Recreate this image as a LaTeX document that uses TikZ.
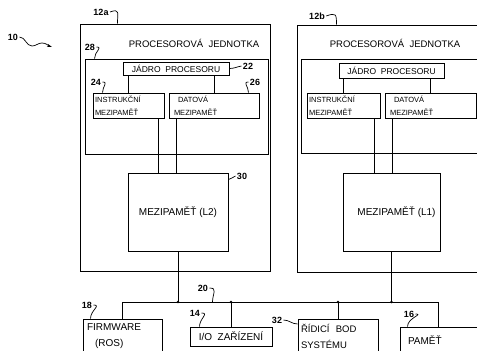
\documentclass[tikz,border=0pt]{standalone}
\usepackage{fontspec}
\setmainfont{Liberation Sans}
\usetikzlibrary{arrows.meta, positioning}

\begin{document}
\begin{tikzpicture}[
    x=1pt, y=-1pt,
    line width=1pt,
    frame/.style={rectangle, draw, inner sep=0pt},
    box/.style={rectangle, draw, inner sep=2pt, align=center, font=\fontsize{10}{16}\selectfont},
    small/.style={font=\fontsize{7.5}{13.5}\selectfont},
    title/.style={font=\fontsize{9.5}{11}\selectfont, inner sep=0pt},
    lbl/.style={font=\fontsize{9}{10}\selectfont\bfseries, inner sep=1pt},
    lead/.style={line width=0.7pt},
    wire/.style={line width=1pt},
    dot/.style={circle, fill, inner sep=0pt, minimum size=2.8pt}
]
    \clip (0,0) rectangle (477,351);

    % Processor unit 12a
    \node[frame, minimum width=190, minimum height=247] (unitA) at (175,147.5) {};
    \node[title] (titleA) at (194,43) {PROCESOROVÁ\ \ JEDNOTKA};
    \node[frame, minimum width=183, minimum height=95] (innerA) at (176.5,106.5) {};
    \node[box, minimum width=106, minimum height=13, inner sep=0pt, font=\fontsize{8.5}{10}\selectfont] (coreA) at (176,68.5) {JÁDRO\ \ PROCESORU};
    \node[box, small, align=left, text width=67, inner xsep=2, minimum height=25, inner ysep=0pt] (icacheA) at (128.5,105.5) {INSTRUKČNÍ\\MEZIPAMĚŤ};
    \node[box, small, align=left, text width=80, inner xsep=5, minimum height=25, inner ysep=0pt] (dcacheA) at (214,105.5) {\hspace{4pt}DATOVÁ\\MEZIPAMĚŤ};
    \node[box, minimum width=100, minimum height=78] (l2A) at (178,212) {\raisebox{-6pt}{MEZIPAMĚŤ (L2)}};

    % Processor unit 12b
    \node[frame, minimum width=193, minimum height=247] (unitB) at (393.5,148.5) {};
    \node[title] (titleB) at (395,43) {PROCESOROVÁ\ \ JEDNOTKA};
    \node[frame, minimum width=189, minimum height=94] (innerB) at (395.5,106) {};
    \node[box, minimum width=105, minimum height=15, inner sep=0pt, font=\fontsize{8.5}{10}\selectfont] (coreB) at (391.5,70.5) {JÁDRO\ \ PROCESORU};
    \node[box, small, align=left, text width=69, inner xsep=2, minimum height=25, inner ysep=0pt] (icacheB) at (343.5,105.5) {INSTRUKČNÍ\\MEZIPAMĚŤ};
    \node[box, small, align=left, text width=81, inner xsep=5, minimum height=25, inner ysep=0pt] (dcacheB) at (430.5,105.5) {\hspace{4pt}DATOVÁ\\MEZIPAMĚŤ};
    \node[box, minimum width=97, minimum height=78] (l2B) at (391.5,212) {\raisebox{-6pt}{\hspace{10pt}MEZIPAMĚŤ (L1)}};

    % Devices on the bus
    \node[box, align=left, text width=71, inner xsep=4, minimum height=34, inner ysep=0pt] (firmware) at (122.5,336) {FIRMWARE\\\hspace{8pt}(ROS)};
    \node[box, minimum width=82, minimum height=19, inner sep=0pt] (io) at (231,336.5) {I/O\ \ ZAŘÍZENÍ};
    \node[box, align=left, text width=74, inner xsep=3, minimum height=34, inner ysep=0pt, font=\fontsize{9.5}{16}\selectfont] (ridici) at (338,336.5) {ŘÍDICÍ\ \ BOD\\SYSTÉMU};
    \node[box, align=left, text width=78, inner xsep=8, minimum height=26, inner ysep=0pt] (pamet) at (447,340) {PAMĚŤ};

    % Wires inside the units
    \draw[wire] (icacheA.north) -- (icacheA.north |- coreA.south);
    \draw[wire] (dcacheA.north) -- (dcacheA.north |- coreA.south);
    \draw[wire] ([xshift=-6]icacheA.south east) -- ([xshift=-6]icacheA.south east |- l2A.north);
    \draw[wire] ([xshift=8]dcacheA.south west) -- ([xshift=8]dcacheA.south west |- l2A.north);
    \draw[wire] (icacheB.north) -- (icacheB.north |- coreB.south);
    \draw[wire] (dcacheB.north) -- (dcacheB.north |- coreB.south);
    \draw[wire] ([xshift=-6]icacheB.south east) -- ([xshift=-6]icacheB.south east |- l2B.north);
    \draw[wire] ([xshift=8]dcacheB.south west) -- ([xshift=8]dcacheB.south west |- l2B.north);

    % System bus
    \coordinate (bus) at (0,302);
    \coordinate (pametIn) at ([xshift=39]pamet.north west);
    \draw[wire] (firmware.north) |- (pametIn |- bus) -- (pametIn);
    \draw[wire] (l2A.south) -- (l2A.south |- bus);
    \draw[wire] (l2B.south) -- (l2B.south |- bus);
    \draw[wire] (io.north) -- (io.north |- bus);
    \draw[wire] (ridici.north) -- (ridici.north |- bus);
    \foreach \n in {l2A, io, ridici, l2B}
        \node[dot] at (\n.north |- bus) {};

    % Reference numerals
    \node[lbl] (lb10) at (13,37) {10};
    \coordinate (sys) at (52,47);
    \draw[lead, -{Stealth[length=5pt, width=3pt]}] (lb10.east) to[out=0, in=180] (32,46) to[out=0, in=180] (42,43) to[out=0, in=160] (sys);
    \node[lbl] (lb12a) at (101,12) {12a};
    \draw[lead] (lb12a.east) to[out=20, in=90, looseness=2] ([xshift=38]unitA.north west);
    \node[lbl] (lb12b) at (317,16) {12b};
    \draw[lead] (lb12b.east) to[out=20, in=90, looseness=2] ([xshift=40]unitB.north west);
    \node[lbl] (lb28) at (90,47) {28};
    \draw[lead] (lb28.east) to[out=0, in=90, looseness=1.5] ([xshift=10]innerA.north west);
    \node[lbl] (lb22) at (248,66) {22};
    \draw[lead] (coreA.east) to[out=0, in=190] (lb22.west);
    \node[lbl] (lb24) at (96,82) {24};
    \draw[lead] (lb24.east) to[out=0, in=90, looseness=1.5] ([xshift=10]icacheA.north west);
    \node[lbl] (lb26) at (255,82) {26};
    \draw[lead] (lb26.west) to[out=180, in=90, looseness=1.5] ([xshift=-11]dcacheA.north east);
    \node[lbl] (lb30) at (242,176) {30};
    \draw[lead] ([yshift=-7]l2A.north east) to[out=0, in=190] (lb30.west);
    \node[lbl] (lb20) at (203,288) {20};
    \draw[lead] (lb20.east) to[out=0, in=90, looseness=1.5] ([xshift=3]lb20.east |- bus);
    \node[lbl] (lb18) at (87,305) {18};
    \draw[lead] (lb18.east) to[out=0, in=90, looseness=1.5] ([xshift=8]firmware.north west);
    \node[lbl] (lb14) at (195,313) {14};
    \draw[lead] (lb14.east) to[out=0, in=90, looseness=1.5] ([xshift=10]io.north west);
    \node[lbl] (lb32) at (277,320) {32};
    \draw[lead] (lb32.east) to[out=0, in=180] ([yshift=-5]ridici.north west);
    \node[lbl] (lb16) at (409,314) {16};
    \draw[lead] (lb16.east) to[out=0, in=90, looseness=1.5] ([xshift=8]pamet.north west);
\end{tikzpicture}
\end{document}
